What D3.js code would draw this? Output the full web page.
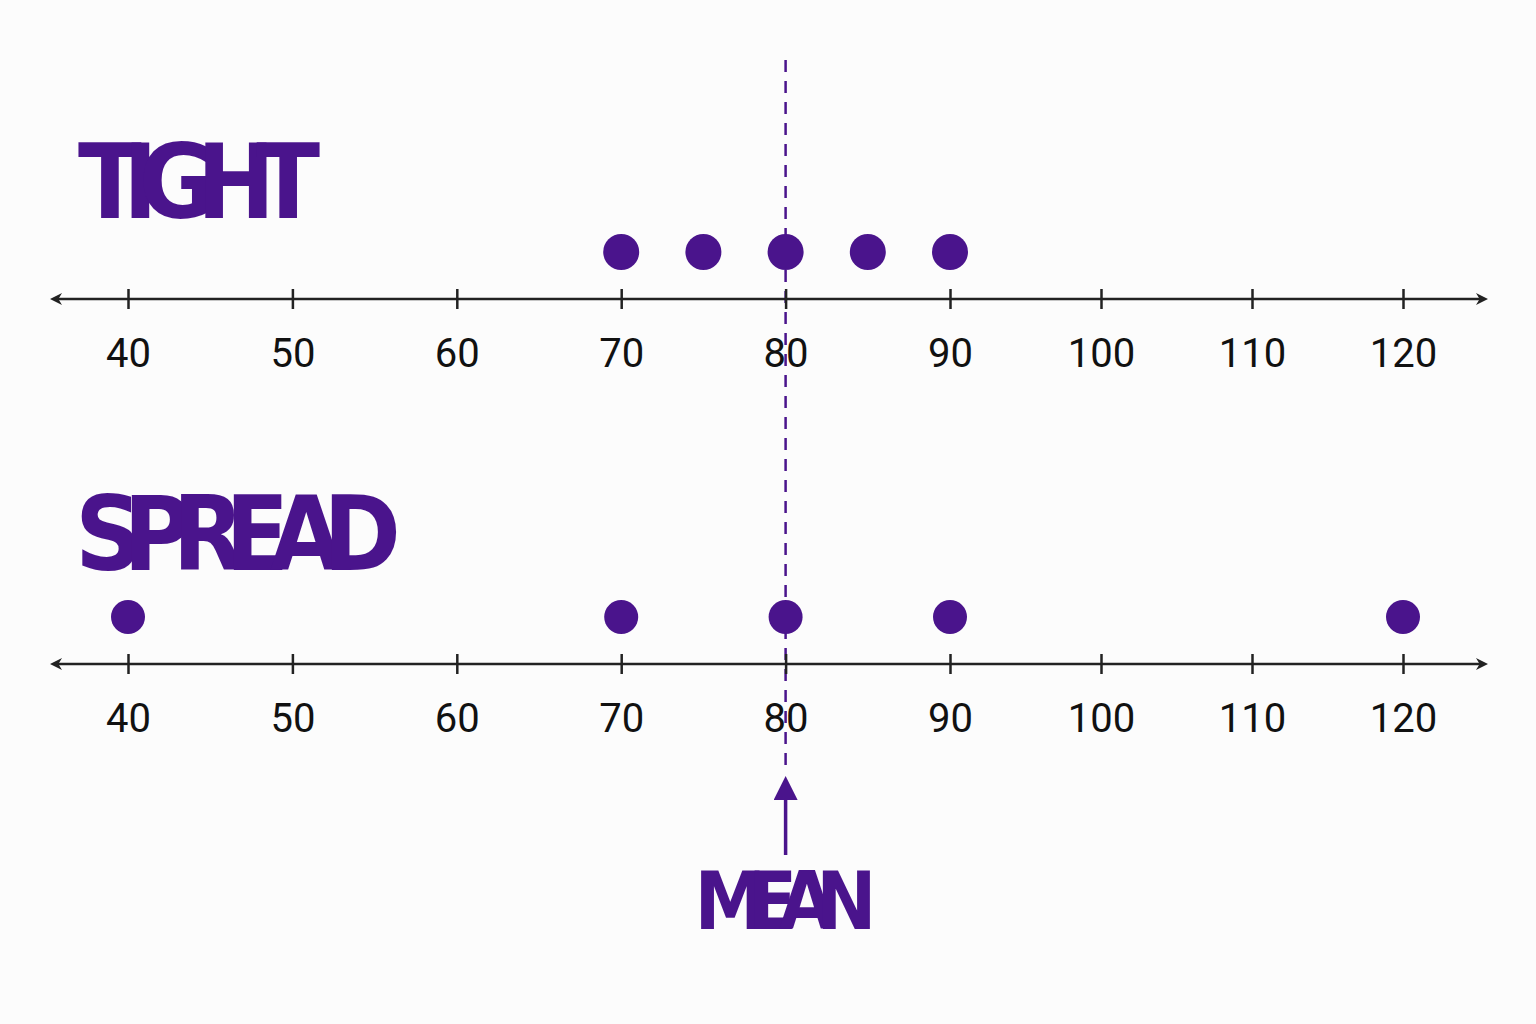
<!DOCTYPE html>
<html><head><meta charset="utf-8">
<script src="https://cdn.jsdelivr.net/npm/d3@7"></script>
<style>
body{margin:0;background:#fcfcfc;}
svg{display:block;}
.lbl{font-family:"DejaVu Sans Condensed","DejaVu Sans";font-weight:bold;fill:#4a148c;}
.tick text{font-family:Roboto,sans-serif;font-size:40px;fill:#111;}
</style></head>
<body>
<svg id="chart" width="1536" height="1024"></svg>
<script>
var tickValues = [40, 50, 60, 70, 80, 90, 100, 110, 120];
var tightValues = [70, 75, 80, 85, 90];
var spreadValues = [40, 70, 80, 90, 120];
var meanValue = 80;

var purple = "#4a148c";
var svg = d3.select("#chart");

// axis in the picture is drawn tighter above 90
var x = d3.scaleLinear().domain([40, 90, 120]).range([128, 950, 1403]);

var defs = svg.append("defs");
["l", "r"].forEach(function (s) {
  defs.append("marker").attr("id", "arr" + s)
    .attr("viewBox", "0 0 10 10").attr("refX", 5).attr("refY", 5)
    .attr("markerWidth", 12).attr("markerHeight", 12).attr("markerUnits", "userSpaceOnUse")
    .attr("orient", s == "l" ? "auto-start-reverse" : "auto")
    .append("path").attr("d", "M0,0 L10,5 L0,10 L3,5 Z").attr("fill", "#222");
});
defs.append("marker").attr("id", "arrm")
  .attr("viewBox", "0 0 10 10").attr("refX", 5).attr("refY", 5)
  .attr("markerWidth", 24).attr("markerHeight", 24).attr("markerUnits", "userSpaceOnUse")
  .attr("orient", "auto")
  .append("path").attr("d", "M0,0 L10,5 L0,10 Z").attr("fill", purple);

// mean dashed line
svg.append("line")
  .attr("x1", x(meanValue)).attr("x2", x(meanValue))
  .attr("y1", 60).attr("y2", 770)
  .attr("stroke", purple).attr("stroke-width", 2.5)
  .attr("stroke-dasharray", "12,9");

function drawAxis(y, data, r) {
  var g = svg.append("g").attr("transform", "translate(0," + y + ")");
  g.append("line").attr("x1", 56).attr("x2", 1482)
    .attr("stroke", "#222").attr("stroke-width", 2.5)
    .attr("marker-start", "url(#arrl)").attr("marker-end", "url(#arrr)");
  var ax = g.append("g").call(d3.axisBottom(x).tickValues(tickValues).tickSize(10).tickPadding(30));
  ax.select(".domain").remove();
  ax.selectAll(".tick line").attr("y1", -10).attr("stroke", "#222").attr("stroke-width", 2.5);
  svg.selectAll(null).data(data).enter().append("circle")
    .attr("cx", function (d) { return x(d); })
    .attr("cy", y - 47).attr("r", r).attr("fill", purple);
}
drawAxis(299, tightValues, 18);
drawAxis(664, spreadValues, 17);

svg.append("text").attr("class", "lbl").attr("x", 78).attr("y", 218)
  .attr("font-size", 104).attr("textLength", 242).text("TIGHT");
svg.append("text").attr("class", "lbl").attr("x", 75).attr("y", 570)
  .attr("font-size", 104).attr("textLength", 326).text("SPREAD");

// mean arrow + label
svg.append("line").attr("x1", x(meanValue)).attr("x2", x(meanValue))
  .attr("y1", 855).attr("y2", 788)
  .attr("stroke", purple).attr("stroke-width", 3.5)
  .attr("marker-end", "url(#arrm)");
svg.append("text").attr("class", "lbl").attr("x", x(meanValue)).attr("y", 929)
  .attr("text-anchor", "middle").attr("font-size", 80).attr("textLength", 182).text("MEAN");
</script>
</body></html>
